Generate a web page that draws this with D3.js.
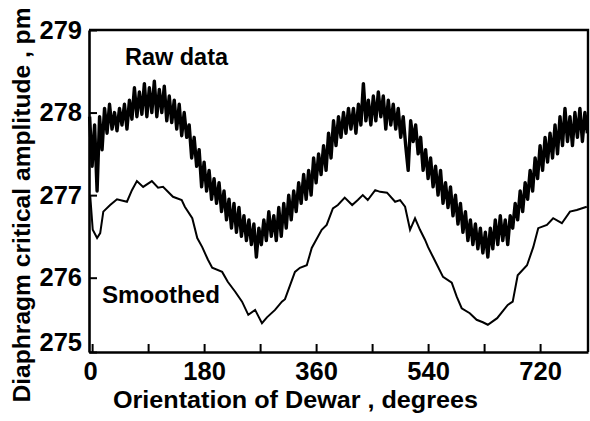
<!DOCTYPE html>
<html>
<head>
<meta charset="utf-8">
<script src="https://cdn.jsdelivr.net/npm/d3@7"></script>
<style>
  body { margin: 0; background: #fff; }
  text { font-family: "Liberation Sans", Arial, sans-serif; font-weight: bold; fill: #000; }
</style>
</head>
<body>
<svg id="chart" width="590" height="421"></svg>
<script>
// axis ticks
let xTickLabels = [0, 180, 360, 540, 720];
let xMinorTicks = [90, 270, 450, 630];
let yTickLabels = [275, 276, 277, 278, 279];

// raw data, read every 4 degrees starting at -4
let rawStartDeg = -4;
let rawStepDeg = 4;
let rawValues = [
  277.95, 277.35, 277.85, 277.05, 277.95, 277.55, 278.05, 277.75, 278.10, 277.80,
  278.00, 277.78, 278.05, 277.85, 278.10, 277.80, 278.15, 277.92, 278.30, 277.95,
  278.25, 277.98, 278.35, 277.95, 278.30, 278.00, 278.38, 277.95, 278.28, 278.00,
  278.32, 277.90, 278.20, 277.88, 278.15, 277.80, 278.10, 277.72, 278.00, 277.70,
  277.85, 277.45, 277.70, 277.35, 277.55, 277.10, 277.40, 277.05, 277.30, 276.95,
  277.20, 276.90, 277.15, 276.80, 277.05, 276.70, 276.95, 276.60, 276.90, 276.55,
  276.85, 276.50, 276.75, 276.45, 276.70, 276.40, 276.65, 276.25, 276.60, 276.40,
  276.70, 276.45, 276.80, 276.50, 276.75, 276.45, 276.85, 276.50, 276.90, 276.60,
  277.00, 276.70, 277.05, 276.80, 277.15, 276.90, 277.25, 276.95, 277.30, 277.00,
  277.45, 277.15, 277.50, 277.25, 277.60, 277.30, 277.75, 277.45, 277.90, 277.60,
  277.95, 277.70, 278.00, 277.75, 278.05, 277.80, 278.05, 277.75, 278.10, 277.85,
  278.35, 277.90, 278.15, 277.85, 278.20, 277.90, 278.25, 277.95, 278.20, 277.80,
  278.15, 277.85, 278.10, 277.80, 278.05, 277.70, 277.95, 277.60, 277.30, 277.90,
  277.65, 277.85, 277.50, 277.70, 277.30, 277.55, 277.20, 277.45, 277.10, 277.35,
  277.00, 277.30, 276.90, 277.15, 276.85, 277.10, 276.75, 277.00, 276.65, 276.90,
  276.55, 276.80, 276.45, 276.70, 276.40, 276.65, 276.35, 276.60, 276.30, 276.55,
  276.25, 276.60, 276.35, 276.70, 276.40, 276.75, 276.45, 276.70, 276.40, 276.75,
  276.60, 276.90, 276.70, 277.05, 276.80, 277.15, 276.95, 277.30, 277.05, 277.45,
  277.20, 277.60, 277.30, 277.70, 277.40, 277.75, 277.45, 277.85, 277.50, 277.95,
  277.60, 278.05, 277.65, 277.95, 277.60, 278.00, 277.70, 278.05, 277.65, 278.00,
  277.75
];

// smoothed curve
let smoothDeg = [
  -3, 1, 8, 13, 18, 29, 40, 56, 64, 72, 82, 96, 106, 114, 130, 144, 149, 161, 169, 177,
  186, 193, 209, 218, 230, 241, 251, 262, 273, 281, 294, 305, 310, 326, 334, 345, 353, 358, 369, 377,
  387, 395, 406, 418, 427, 435, 443, 455, 463, 474, 487, 495, 503, 511, 519, 527, 535, 540, 548, 564,
  578, 586, 594, 607, 618, 628, 636, 651, 668, 676, 684, 699, 709, 717, 731, 741, 755, 768, 779, 795
];
let smoothValues = [
  276.99, 276.58, 276.48, 276.54, 276.80, 276.88, 276.95, 276.92, 277.06, 277.17,
  277.10, 277.17, 277.09, 277.10, 276.98, 276.94, 276.86, 276.72, 276.48, 276.37,
  276.22, 276.12, 276.07, 275.95, 275.83, 275.71, 275.55, 275.61, 275.45, 275.52,
  275.61, 275.71, 275.74, 276.07, 276.12, 276.15, 276.36, 276.43, 276.58, 276.64,
  276.84, 276.88, 276.97, 276.88, 276.94, 277.00, 276.94, 277.06, 277.04, 277.03,
  276.92, 276.94, 276.86, 276.58, 276.72, 276.58, 276.46, 276.37, 276.25, 276.01,
  275.94, 275.77, 275.63, 275.57, 275.49, 275.46, 275.43, 275.51, 275.67, 275.71,
  276.03, 276.15, 276.37, 276.60, 276.64, 276.72, 276.66, 276.80, 276.82, 276.86
];

let plot = {left: 89, right: 588, top: 30, bottom: 352};
let svg = d3.select("#chart");

let x = d3.scaleLinear()
    .domain([-5, 797])
    .range([plot.left, plot.right]);

let y = d3.scaleLinear()
    .domain([275.1, 279])
    .range([plot.bottom, plot.top])
    .clamp(true);

// frame (top + right)
svg.append("path")
    .attr("d", `M${plot.left},${plot.top}H${plot.right}V${plot.bottom}`)
    .attr("fill", "none")
    .attr("stroke", "#000")
    .attr("stroke-width", 2.4);

// x axis: labelled ticks every 180, bare ticks between
let xAxis = svg.append("g")
    .attr("transform", `translate(0, ${plot.bottom})`)
    .call(d3.axisBottom(x).tickValues(xTickLabels).tickSizeInner(-8).tickSizeOuter(0).tickPadding(10).tickFormat(d3.format("d")));
svg.append("g")
    .attr("transform", `translate(0, ${plot.bottom})`)
    .call(d3.axisBottom(x).tickValues(xMinorTicks).tickSizeInner(-8).tickSizeOuter(0).tickFormat(""))
    .select(".domain").remove();

let yAxis = svg.append("g")
    .attr("transform", `translate(${plot.left}, 0)`)
    .call(d3.axisLeft(y).tickValues(yTickLabels).tickSizeInner(-8).tickSizeOuter(0).tickPadding(7).tickFormat(d3.format("d")));

svg.selectAll(".tick line").attr("stroke", "#000").attr("stroke-width", 2);
svg.selectAll(".domain").attr("stroke", "#000").attr("stroke-width", 2.6);
svg.selectAll(".tick text")
    .style("font-size", "25.5px")
    .style("font-family", "'Liberation Sans', Arial, sans-serif")
    .style("font-weight", "bold");

// 275 sits just above the bottom axis
yAxis.selectAll(".tick").filter(d => d === 275).select("text").attr("y", -10);
xAxis.selectAll(".tick").filter(d => d === 0).select("text").attr("x", -2);

// smoothed
let smoothLine = d3.line()
    .x((d, i) => x(smoothDeg[i]))
    .y(d => y(d));

svg.append("path")
    .datum(smoothValues)
    .attr("d", smoothLine)
    .attr("fill", "none")
    .attr("stroke", "#000")
    .attr("stroke-width", 2);

// raw
let rawLine = d3.line()
    .x((d, i) => x(rawStartDeg + i * rawStepDeg))
    .y(d => y(d));

svg.append("path")
    .datum(rawValues)
    .attr("d", rawLine)
    .attr("fill", "none")
    .attr("stroke", "#000")
    .attr("stroke-width", 3.4)
    .attr("stroke-linejoin", "round");

// labels
svg.append("text")
    .attr("x", 176.5).attr("y", 65)
    .style("text-anchor", "middle")
    .style("font-size", "24px")
    .attr("textLength", 103).attr("lengthAdjust", "spacingAndGlyphs")
    .text("Raw data");

svg.append("text")
    .attr("x", 161).attr("y", 303)
    .style("text-anchor", "middle")
    .style("font-size", "24px")
    .attr("textLength", 118).attr("lengthAdjust", "spacingAndGlyphs")
    .text("Smoothed");

svg.append("text")
    .attr("x", 295.5).attr("y", 408)
    .style("text-anchor", "middle")
    .style("font-size", "24px")
    .attr("textLength", 365).attr("lengthAdjust", "spacingAndGlyphs")
    .text("Orientation of Dewar , degrees");

svg.append("text")
    .attr("transform", "translate(30, 205) rotate(-90)")
    .style("text-anchor", "middle")
    .style("font-size", "24px")
    .attr("textLength", 395).attr("lengthAdjust", "spacingAndGlyphs")
    .text("Diaphragm critical amplitude , pm");
</script>
</body>
</html>
